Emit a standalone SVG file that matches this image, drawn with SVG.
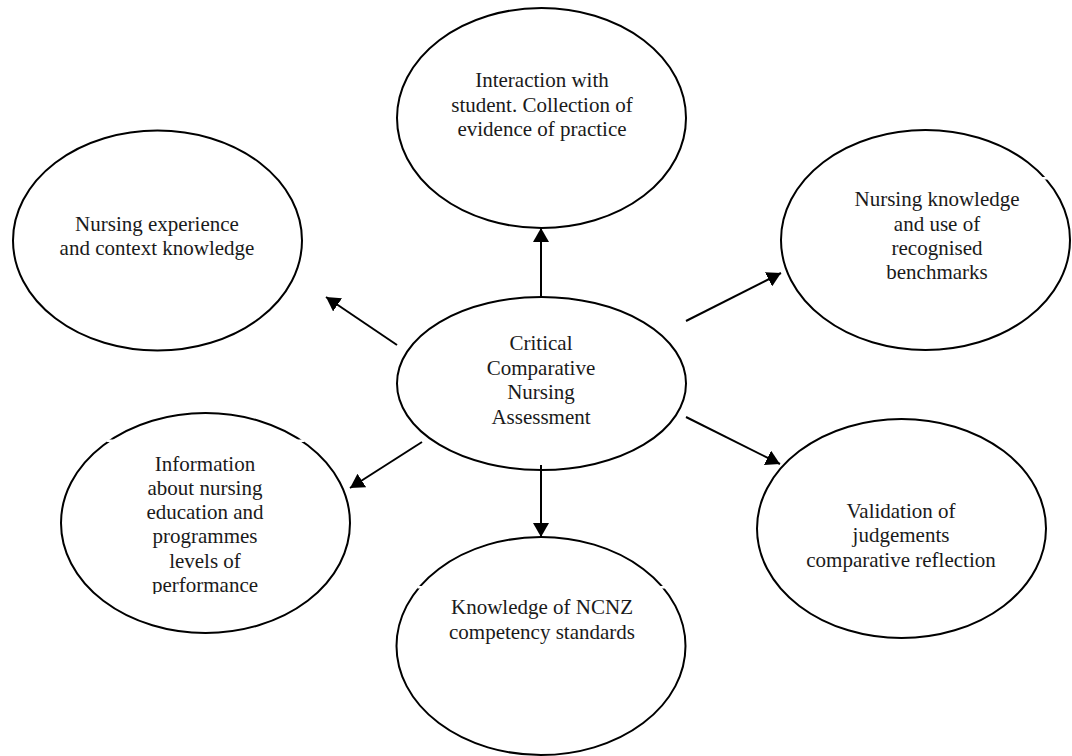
<svg xmlns="http://www.w3.org/2000/svg" width="1072" height="756" viewBox="0 0 1072 756">
  <style>
    .node ellipse { fill: #ffffff; stroke: #000000; stroke-width: 2; }
    .node text { font-family: "Liberation Serif", "Times New Roman", serif; font-size: 21px; fill: #1a1a1a; text-anchor: middle; }
    .edge { stroke: #000000; stroke-width: 2; fill: none; marker-end: url(#head); }
    .gap { fill: #ffffff; }
  </style>
  <defs>
    <marker id="head" viewBox="0 0 14 16" refX="14" refY="8" markerWidth="14" markerHeight="16" markerUnits="userSpaceOnUse" orient="auto">
      <path d="M0,0 L14,8 L0,16 Z" fill="#000000"/>
    </marker>
    <clipPath id="clipInfo">
      <rect x="60" y="400" width="300" height="194"/>
    </clipPath>
  </defs>
  <rect width="1072" height="756" fill="#ffffff"/>

  <!-- top: interaction -->
  <g id="interaction" class="node">
    <ellipse cx="541.5" cy="118" rx="144.5" ry="110"/>
    <text x="542" y="87">Interaction with</text>
    <text x="542" y="111.5">student. Collection of</text>
    <text x="542" y="135.5">evidence of practice</text>
  </g>

  <!-- upper left: experience -->
  <g id="experience" class="node">
    <ellipse cx="157.5" cy="240.5" rx="144.5" ry="110"/>
    <text x="157" y="230.5">Nursing experience</text>
    <text x="157" y="255">and context knowledge</text>
  </g>

  <!-- upper right: benchmarks -->
  <g id="benchmarks" class="node">
    <ellipse cx="925.5" cy="240" rx="144.5" ry="110"/>
    <rect class="gap" x="1042" y="177" width="7" height="2.5"/>
    <text x="937" y="206">Nursing knowledge</text>
    <text x="937" y="230.5">and use of</text>
    <text x="937" y="254.5">recognised</text>
    <text x="937" y="279">benchmarks</text>
  </g>

  <!-- centre: assessment -->
  <g id="assessment" class="node">
    <ellipse cx="541.5" cy="383.5" rx="144.5" ry="86.5"/>
    <text x="541" y="350">Critical</text>
    <text x="541" y="374.5">Comparative</text>
    <text x="541" y="399">Nursing</text>
    <text x="541" y="423.5">Assessment</text>
  </g>

  <!-- lower left: education information -->
  <g id="education" class="node">
    <ellipse cx="205.5" cy="523" rx="144.5" ry="110"/>
    <rect class="gap" x="107" y="439.5" width="7" height="2.5"/>
    <rect class="gap" x="297" y="439.5" width="7" height="2.5"/>
    <g clip-path="url(#clipInfo)">
      <text x="205" y="470.5">Information</text>
      <text x="205" y="494.5">about nursing</text>
      <text x="205" y="519">education and</text>
      <text x="205" y="543">programmes</text>
      <text x="205" y="567.5">levels of</text>
      <text x="205" y="592">performance</text>
    </g>
  </g>

  <!-- bottom: standards -->
  <g id="standards" class="node">
    <ellipse cx="541" cy="646" rx="144.5" ry="109"/>
    <rect class="gap" x="417.5" y="586" width="7" height="2.5"/>
    <rect class="gap" x="659.5" y="586" width="7" height="2.5"/>
    <text x="542" y="614">Knowledge of NCNZ</text>
    <text x="542" y="639">competency standards</text>
  </g>

  <!-- lower right: validation -->
  <g id="validation" class="node">
    <ellipse cx="901.5" cy="528.5" rx="144.5" ry="109.5"/>
    <text x="901" y="518">Validation of</text>
    <text x="901" y="542">judgements</text>
    <text x="901" y="567">comparative reflection</text>
  </g>

  <!-- connectors radiating from the centre -->
  <g id="connectors">
    <line class="edge" x1="541" y1="297" x2="541" y2="228"/>
    <line class="edge" x1="397" y1="345" x2="326" y2="297"/>
    <line class="edge" x1="686" y1="321" x2="781" y2="273"/>
    <line class="edge" x1="686" y1="417" x2="780" y2="464"/>
    <line class="edge" x1="422" y1="442" x2="350" y2="488"/>
    <line class="edge" x1="541" y1="465" x2="541" y2="537"/>
  </g>
</svg>
